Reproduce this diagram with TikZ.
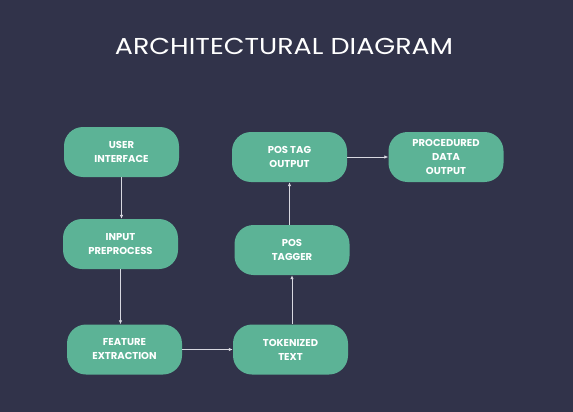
\documentclass[tikz,border=0pt]{standalone}
\usepackage{fontspec}
\setmainfont{Poppins}
\usetikzlibrary{arrows.meta}
\definecolor{bgc}{HTML}{31334A}
\definecolor{boxc}{HTML}{5CB396}
\definecolor{linec}{HTML}{D8D8E0}
\tikzset{
  blk/.style={draw=none, fill=boxc, rounded corners=19pt, minimum width=115pt, minimum height=50pt,
    align=center, text=white, font=\fontsize{10}{14}\selectfont\bfseries, inner sep=0pt},
  conn/.style={draw=linec, line width=0.8pt, -{Latex[length=4pt,width=3.5pt]}}
}
\begin{document}
\begin{tikzpicture}[x=1pt,y=-1pt]
\fill[bgc] (0,0) rectangle (573,412);
\useasboundingbox (0,0) rectangle (573,412);
\node[text=white, font=\fontsize{23}{26}\selectfont] (title) at (284,46) {\scalebox{1.17}[1]{ARCHITECTURAL DIAGRAM}};
\node[blk] (ui) at (121.5,152) {USER\\INTERFACE};
\node[blk] (ip) at (120.5,244) {INPUT\\PREPROCESS};
\node[blk] (fe) at (124.5,349.5) {FEATURE\\EXTRACTION};
\node[blk] (tt) at (290.5,349.5) {TOKENIZED\\TEXT};
\node[blk] (pt) at (292,250) {POS\\TAGGER};
\node[blk] (po) at (289.5,157) {POS TAG\\OUTPUT};
\node[blk] (pd) at (446,157) {PROCEDURED\\DATA\\OUTPUT};
\draw[conn] (ui.south) -- (ui.south |- ip.north);
\draw[conn] (ip.south) -- (ip.south |- fe.north);
\draw[conn] (fe.east) -- (tt.west);
\draw[conn] (tt.north -| pt.south) -- (pt.south);
\draw[conn] (pt.north -| po.south) -- (po.south);
\draw[conn] (po.east) -- (po.east -| pd.west);
\end{tikzpicture}
\end{document}
